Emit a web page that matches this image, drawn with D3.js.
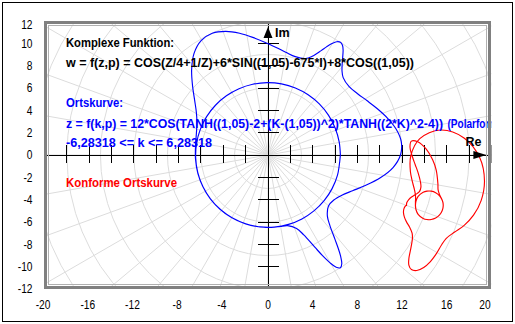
<!DOCTYPE html>
<html><head><meta charset="utf-8">
<script src="https://cdn.jsdelivr.net/npm/d3@7"></script>
<style>body{margin:0;background:#fff}svg{display:block}</style>
</head><body><svg id="c" width="515" height="324"></svg>
<script>
// ---------- data ----------
const xTickLabels = [-20,-16,-12,-8,-4,0,4,8,12,16,20];
const yTickLabels = [12,10,8,6,4,2,0,-2,-4,-6,-8,-10,-12];
const axisTicks = [-20,-18,-16,-14,-12,-10,-8,-6,-4,-2,2,4,6,8,10,12,14,16,18,20];
const gridRadii = [3,6,9,12,15,18,21,24,27,30,33];
const gridAngles = [0,10,20,30,40,50,60,70,80,90,100,110,120,130,140,150,160,170,180,190,200,210,220,230,240,250,260,270,280,290,300,310,320,330,340,350];

// Ortskurve (blue), polar form: [angle k (rad), radius]
const blueCurve = [
[-6.283,6.48],[-6.1,6.48],[-5.9,6.48],[-5.7,6.48],[-5.5,6.48],[-5.3,6.48],[-5.1,6.48],[-4.9,6.48],[-4.7,6.48],[-4.5,6.48],
[-4.3,6.48],[-4.1,6.48],[-3.9,6.48],[-3.7,6.48],[-3.5,6.48],[-3.3,6.48],[-3.1,6.48],[-2.9,6.48],[-2.7,6.48],[-2.5,6.48],
[-2.3,6.48],[-2.1,6.48],[-1.9,6.48],[-1.7,6.48],[-1.6,6.48],[-1.5,6.485],[-1.4,6.49],[-1.3,6.57],[-1.2,7.06],[-1.15,7.84],
[-1.1,9.29],[-1.075,10.22],[-1.05,11.11],[-1.025,11.76],[-1.0,12.0],[-0.975,11.77],[-0.95,11.19],[-0.925,10.43],[-0.9,9.65],[-0.85,8.39],
[-0.8,7.63],[-0.7,7.08],[-0.6,7.14],[-0.5,7.53],[-0.4,8.22],[-0.3,9.17],[-0.2,10.26],[-0.1,11.25],[0,11.86],[0.1,11.99],
[0.2,11.70],[0.3,11.19],[0.4,10.63],[0.5,10.12],[0.6,9.72],[0.7,9.50],[0.8,9.66],[0.85,10.04],[0.9,10.71],[0.95,11.56],
[0.975,11.88],[1.0,12.0],[1.025,11.87],[1.05,11.51],[1.075,11.01],[1.1,10.49],[1.15,9.68],[1.2,9.27],[1.3,9.14],[1.4,9.34],
[1.5,9.67],[1.6,10.10],[1.7,10.62],[1.8,11.19],[1.9,11.70],[2.0,11.99],[2.1,11.86],[2.2,11.25],[2.3,10.26],[2.4,9.16],
[2.5,8.20],[2.6,7.49],[2.7,7.04],[2.8,6.78],[2.9,6.63],[3.0,6.55],[3.2,6.50],[3.4,6.49],[3.6,6.48],[3.8,6.48],
[4.0,6.48],[4.2,6.48],[4.4,6.48],[4.6,6.48],[4.8,6.48],[5.0,6.48],[5.2,6.48],[5.4,6.48],[5.6,6.48],[5.8,6.48],
[6.0,6.48],[6.283,6.48]
];

// Konforme Ortskurve (red): [Re, Im]
const redCurve = [
[13.20,-4.51],[13.25,-4.90],[13.44,-5.31],[13.89,-5.68],[14.23,-5.78],[14.61,-5.78],[15.01,-5.65],[15.36,-5.37],[15.60,-4.97],[15.69,-4.51],
[15.60,-4.05],[15.36,-3.65],[15.01,-3.37],[14.61,-3.24],[14.23,-3.24],[13.89,-3.34],[13.44,-3.71],[13.25,-4.12],[13.20,-4.51],
[13.25,-4.90],[13.44,-5.31],[13.89,-5.68],[14.23,-5.78],[14.61,-5.78],[15.01,-5.65],[15.36,-5.37],[15.60,-4.97],
[15.68,-4.64],[15.66,-4.25],[15.54,-3.91],[15.37,-3.59],[15.23,-3.13],[15.21,-2.58],[15.06,-1.36],[14.74,-0.43],[14.15,0.54],[13.40,1.18],
[12.84,1.24],[12.71,0.72],[12.90,-0.07],[13.18,-0.87],[13.42,-1.54],[13.65,-2.42],[13.69,-2.88],[13.57,-3.26],[13.37,-3.44],[13.13,-3.59],
[12.85,-3.76],[12.60,-3.99],[12.43,-4.25],[12.40,-4.44],[12.40,-4.51],[12.36,-4.53],[12.26,-4.62],[12.16,-4.84],[12.13,-5.18],[12.22,-5.58],
[12.41,-6.01],[12.67,-6.44],[12.90,-7.00],[12.93,-7.45],[12.82,-8.19],[12.61,-9.29],[12.61,-9.86],[12.84,-10.26],[13.32,-10.34],[13.94,-10.07],
[14.54,-9.54],[15.00,-8.95],[15.56,-8.01],[15.94,-7.48],[16.71,-6.90],[17.56,-6.30],[18.40,-5.39],[19.08,-4.08],[19.38,-2.33],[18.97,-0.27],
[17.55,1.53],[15.43,2.24],[13.59,1.46],[12.78,-0.09],[12.75,-1.50],[12.95,-2.48],[13.11,-3.10],[13.19,-3.50],[13.21,-3.77],[13.21,-3.98],
[13.20,-4.15],[13.20,-4.30],[13.20,-4.59],
[13.25,-4.90],[13.44,-5.31],[13.89,-5.68],[14.23,-5.78],[14.61,-5.78],[15.01,-5.65],[15.36,-5.37],[15.60,-4.97],[15.69,-4.51],
[15.60,-4.05],[15.36,-3.65],[15.01,-3.37],[14.61,-3.24],[14.23,-3.24],[13.89,-3.34],[13.44,-3.71],[13.25,-4.12],[13.20,-4.51]
];

const textLines = [
  {t:"Komplexe Funktion:", c:"#000000", y:47, w:108},
  {t:"w = f(z,p) = COS(Z/4+1/Z)+6*SIN((1,05)-675*I)+8*COS((1,05))", c:"#000000", y:67, w:348},
  {t:"Ortskurve:", c:"#0000ff", y:107, w:57},
  {t:"z = f(k,p) = 12*COS(TANH((1,05)-2+(K-(1,05))^2)*TANH((2*K)^2-4))", c:"#0000ff", y:128, w:377},
  {t:"-6,28318 <= k <= 6,28318", c:"#0000ff", y:147, w:146},
  {t:"Konforme Ortskurve", c:"#ff0000", y:187, w:111}
];
const extraText = {t:"(Polarform)", c:"#0000ff", y:128, x:447.5, w:54};

// ---------- drawing ----------
const svg = d3.select("#c");
const x = d3.scaleLinear().domain([-20,20]).range([44.6,491.4]);
const y = d3.scaleLinear().domain([-12,12]).range([289,21]);
const FONT = "'Liberation Sans', Arial, sans-serif";

svg.append("rect").attr("x",0).attr("y",0).attr("width",515).attr("height",324).attr("fill","#fff");
svg.append("rect").attr("x",2.5).attr("y",2.5).attr("width",510).attr("height",319)
  .attr("fill","none").attr("stroke","#000").attr("stroke-width",1);

const defs = svg.append("defs");
defs.append("clipPath").attr("id","plotclip").append("rect")
  .attr("x",x(-20)).attr("y",y(12)).attr("width",x(20)-x(-20)).attr("height",y(-12)-y(12));

const plot = svg.append("g").attr("clip-path","url(#plotclip)");

// polar background grid
const cx = x(0), cy = y(0), unit = x(1)-x(0);
plot.append("g").selectAll("circle").data(gridRadii).join("circle")
  .attr("cx",cx).attr("cy",cy).attr("r",d=>d*unit)
  .attr("fill","none").attr("stroke","#dcdcdc").attr("stroke-width",1);
plot.append("g").selectAll("line").data(gridAngles).join("line")
  .attr("x1",cx).attr("y1",cy)
  .attr("x2",d=>x(40*Math.cos(d*Math.PI/180)))
  .attr("y2",d=>y(40*Math.sin(d*Math.PI/180)))
  .attr("stroke","#dcdcdc").attr("stroke-width",1);

// axes
const ax = plot.append("g").attr("stroke","#000").attr("stroke-width",1).attr("shape-rendering","crispEdges");
ax.append("line").attr("x1",x(-20)).attr("x2",x(20)).attr("y1",cy).attr("y2",cy);
ax.append("line").attr("x1",cx).attr("x2",cx).attr("y1",y(12)).attr("y2",y(-12));
ax.selectAll(".xt").data(axisTicks).join("line").attr("class","xt")
  .attr("x1",d=>x(d)).attr("x2",d=>x(d)).attr("y1",cy-10).attr("y2",cy+8);
ax.selectAll(".yt").data(axisTicks.filter(d=>Math.abs(d)<=12)).join("line").attr("class","yt")
  .attr("y1",d=>y(d)).attr("y2",d=>y(d)).attr("x1",cx-10).attr("x2",cx+11);

// curves
const line = d3.line().x(d=>x(d[0])).y(d=>y(d[1])).curve(d3.curveCatmullRom.alpha(0.5));
const bluePts = blueCurve.map(([k,r])=>[r*Math.cos(k), r*Math.sin(k)]);
plot.append("path").attr("d",line(bluePts)).attr("fill","none").attr("stroke","#0000ff").attr("stroke-width",1.15);
plot.append("path").attr("d",line(redCurve)).attr("fill","none").attr("stroke","#ff0000").attr("stroke-width",1.15);

// texts
plot.selectAll(".tl").data(textLines).join("text").attr("class","tl")
  .attr("x",66).attr("y",d=>d.y).attr("fill",d=>d.c)
  .attr("font-family",FONT).attr("font-weight","bold").attr("font-size",12.5)
  .attr("textLength",d=>d.w).attr("lengthAdjust","spacingAndGlyphs").text(d=>d.t);
plot.append("text").attr("x",extraText.x).attr("y",extraText.y).attr("fill",extraText.c)
  .attr("font-family",FONT).attr("font-weight","bold").attr("font-size",12.5)
  .attr("textLength",extraText.w).attr("lengthAdjust","spacingAndGlyphs").text(extraText.t);

// arrows and axis names
plot.append("path").attr("d",`M${cx},${y(12)+6}L${cx-4.5},${y(12)+17}L${cx+4.5},${y(12)+17}Z`).attr("fill","#000");
plot.append("path").attr("d",`M${x(20)-5},${cy}L${x(20)-18},${cy-4}L${x(20)-18},${cy+4}Z`).attr("fill","#000");
plot.append("text").attr("x",cx+7).attr("y",y(12)+16).text("Im")
  .attr("font-family",FONT).attr("font-weight","bold").attr("font-size",12.5);
plot.append("text").attr("x",x(20)-26).attr("y",cy-9).text("Re")
  .attr("font-family",FONT).attr("font-weight","bold").attr("font-size",12.5);

// frame (on top)
svg.append("rect").attr("x",45.5).attr("y",22.5).attr("width",489.5-45.5).attr("height",287.5-22.5)
  .attr("fill","none").attr("stroke","#808080").attr("stroke-width",3);
svg.append("rect").attr("x",48.5).attr("y",25.5).attr("width",486.5-48.5).attr("height",284.5-25.5)
  .attr("fill","none").attr("stroke","#b0b0b0").attr("stroke-width",1);

// tick labels
const xl = svg.append("g").attr("font-family",FONT).attr("font-size",12).attr("fill","#000");
xl.selectAll("text").data(xTickLabels).join("text")
  .attr("transform",d=>{ let px = d===20 ? 485 : x(d) - (d<0?1.5:0); return `translate(${px},309) scale(0.85,1)`; })
  .attr("text-anchor","middle").text(d=>d);
const yl = svg.append("g").attr("font-family",FONT).attr("font-size",12).attr("fill","#000");
yl.selectAll("text").data(yTickLabels).join("text")
  .attr("transform",d=>{ let py = d===12 ? 25 : y(d); return `translate(32.5,${py+4.3}) scale(0.85,1)`; })
  .attr("text-anchor","end").text(d=>d);
</script>
</body></html>
